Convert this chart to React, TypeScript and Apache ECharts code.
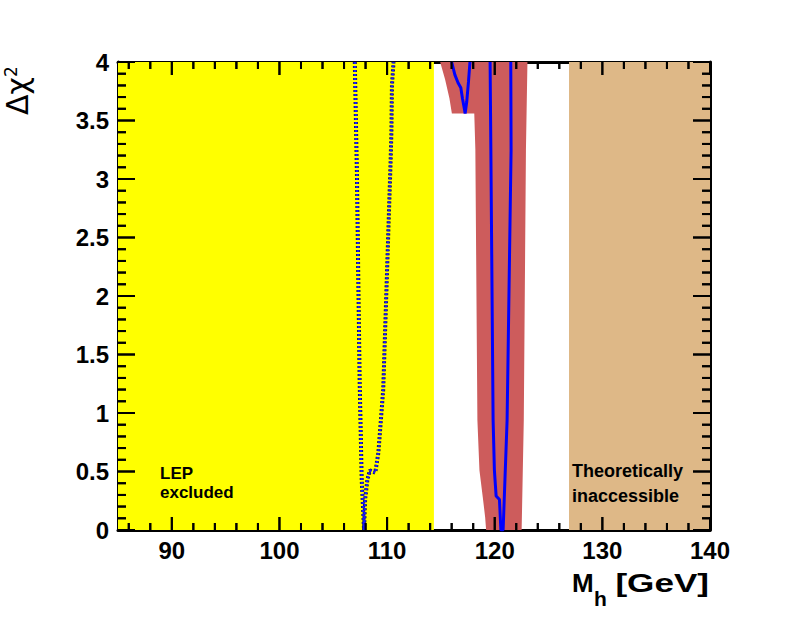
import React, { useEffect, useRef } from 'react';
import * as echarts from 'echarts';

// ---- tick values ----
const xMajorTicks = [90, 100, 110, 120, 130, 140];
const xMinorTicks = [86, 88, 92, 94, 96, 98, 102, 104, 106, 108, 112, 114, 116, 118, 122, 124, 126, 128, 132, 134, 136, 138];
const yMajorTicks = [0, 0.5, 1, 1.5, 2, 2.5, 3, 3.5, 4];
const yMinorTicks = [0.1, 0.2, 0.3, 0.4, 0.6, 0.7, 0.8, 0.9, 1.1, 1.2, 1.3, 1.4, 1.6, 1.7, 1.8, 1.9, 2.1, 2.2, 2.3, 2.4, 2.6, 2.7, 2.8, 2.9, 3.1, 3.2, 3.3, 3.4, 3.6, 3.7, 3.8, 3.9];

// ---- shaded regions [from, to] in GeV ----
const lepExcluded = [85, 114.35];
const theoryInaccessible = [126.9, 140];

// ---- uncertainty band outline ----
const bandX = [114.93, 115.39, 115.79, 116.02, 118.1, 118.2, 118.39, 118.58, 118.89, 119.11, 119.2, 122.5, 122.7, 122.9, 123.04];
const bandY = [4.0, 3.85, 3.69, 3.56, 3.56, 3.25, 0.94, 0.51, 0.28, 0.11, 0.0, 0.0, 0.94, 3.25, 4.0];

// ---- solid fit curve ----
const fitX = [119.57, 119.64, 119.85, 119.97, 120.13, 120.44, 120.57, 120.78, 121.15, 121.52, 121.49];
const fitY = [4.0, 3.25, 0.94, 0.51, 0.29, 0.26, 0.0, 0.0, 0.94, 3.25, 4.0];

// ---- secondary dip of the fit curve ----
const dipX = [116.0, 116.3, 116.6, 116.85, 117.0, 117.2, 117.25, 117.4, 117.56, 117.7];
const dipY = [4.0, 3.89, 3.82, 3.78, 3.69, 3.59, 3.56, 3.66, 3.83, 4.0];

// ---- dotted curve ----
const lepX = [107.0, 107.2, 107.45, 107.64, 107.86, 107.96, 108.17, 108.4, 108.6, 108.9, 109.19, 109.64, 110.33, 110.4, 110.45, 110.6];
const lepY = [4.0, 3.03, 1.28, 0.43, 0.0, 0.26, 0.43, 0.51, 0.5, 0.49, 0.66, 1.2, 3.16, 3.4, 3.8, 4.0];

const X_MIN = 85;
const X_MAX = 140;
const Y_MIN = 0;
const Y_MAX = 4;

// plot area geometry (pixels)
const GRID_LEFT = 118;
const GRID_TOP = 62;
const GRID_W = 592;
const GRID_H = 468;

const FONT = '"Liberation Sans", Arial, sans-serif';
const regionColors = ['#FFFF00', '#DEB887'];

const zip = (xs: number[], ys: number[]) => xs.map((x, i) => [x, ys[i]]);

const pxToY = (px: number) => (px / GRID_H) * (Y_MAX - Y_MIN);
const pxToX = (px: number) => (px / GRID_W) * (X_MAX - X_MIN);

const labelStyle = {
  color: '#000',
  fontSize: 24,
  fontWeight: 'bold',
  fontFamily: FONT,
};

// ticks as small polygons, one data item per tick, drawn like the band
function xTickPolys(name: string, values: number[], len: number) {
  const data: number[][] = [];
  values.forEach((v) => {
    data.push([v, Y_MIN]);
    data.push([v, Y_MAX]);
  });
  return {
    type: 'custom',
    name,
    z: 2,
    silent: true,
    clip: true,
    data,
    renderItem: (_p: any, api: any) => {
      const yv = api.value(1);
      const p = api.coord([api.value(0), yv]);
      const d = yv === Y_MIN ? -len : len;
      return {
        type: 'polygon',
        shape: { points: [[p[0] - 1, p[1]], [p[0] + 1, p[1]], [p[0] + 1, p[1] + d], [p[0] - 1, p[1] + d]] },
        style: { fill: '#000' },
      };
    },
  };
}

function yTickPolys(name: string, values: number[], len: number) {
  const data: number[][] = [];
  values.forEach((v) => {
    data.push([X_MIN, v]);
    data.push([X_MAX, v]);
  });
  return {
    type: 'custom',
    name,
    z: 2,
    silent: true,
    clip: true,
    data,
    renderItem: (_p: any, api: any) => {
      const xv = api.value(0);
      const p = api.coord([xv, api.value(1)]);
      const d = xv === X_MIN ? len : -len;
      return {
        type: 'polygon',
        shape: { points: [[p[0], p[1] - 1], [p[0], p[1] + 1], [p[0] + d, p[1] + 1], [p[0] + d, p[1] - 1]] },
        style: { fill: '#000' },
      };
    },
  };
}

// ticks as broken line segments
function xTickLine(name: string, values: number[], px: number) {
  const len = pxToY(px);
  const data: any[] = [];
  values.forEach((v) => {
    data.push([v, Y_MIN], [v, Y_MIN + len], [v, '-']);
    data.push([v, Y_MAX], [v, Y_MAX - len], [v, '-']);
  });
  return {
    type: 'line',
    name,
    z: 5,
    silent: true,
    symbol: 'none',
    connectNulls: false,
    data,
    lineStyle: { color: '#000', width: 2 },
  };
}

function yTickLine(name: string, values: number[], px: number) {
  const len = pxToX(px);
  const data: any[] = [];
  values.forEach((v) => {
    data.push([X_MIN, v], [X_MIN + len, v], ['-', v]);
    data.push([X_MAX, v], [X_MAX - len, v], ['-', v]);
  });
  return {
    type: 'line',
    name,
    z: 5,
    silent: true,
    symbol: 'none',
    connectNulls: false,
    data,
    lineStyle: { color: '#000', width: 2 },
  };
}

export default function App() {
  const ref = useRef<HTMLDivElement>(null);

  useEffect(() => {
    if (!ref.current) return;
    const chart = echarts.init(ref.current, undefined, { renderer: 'svg' });

    const lineAxis = { show: true, onZero: false, lineStyle: { color: '#000', width: 3 } };

    const option = {
      animation: false,
      backgroundColor: '#fff',
      grid: { left: GRID_LEFT, top: GRID_TOP, width: GRID_W, height: GRID_H, show: false },
      xAxis: [
        {
          type: 'value',
          position: 'bottom',
          min: X_MIN,
          max: X_MAX,
          axisLine: lineAxis,
          axisTick: { show: false },
          axisLabel: { ...labelStyle, margin: 8, customValues: xMajorTicks, hideOverlap: false },
          splitLine: { show: false },
        },
        {
          type: 'value',
          position: 'top',
          min: X_MIN,
          max: X_MAX,
          axisLine: lineAxis,
          axisTick: { show: false },
          axisLabel: { show: false },
          splitLine: { show: false },
        },
      ],
      yAxis: [
        {
          type: 'value',
          position: 'left',
          min: Y_MIN,
          max: Y_MAX,
          interval: 0.5,
          axisLine: lineAxis,
          axisTick: { show: false },
          axisLabel: { ...labelStyle, margin: 9, customValues: yMajorTicks, hideOverlap: false },
          splitLine: { show: false },
        },
        {
          type: 'value',
          position: 'right',
          min: Y_MIN,
          max: Y_MAX,
          interval: 0.5,
          axisLine: lineAxis,
          axisTick: { show: false },
          axisLabel: { show: false },
          splitLine: { show: false },
        },
      ],
      series: [
        {
          type: 'custom',
          name: 'regions',
          z: 1,
          silent: true,
          clip: true,
          data: [lepExcluded, theoryInaccessible],
          renderItem: (params: any, api: any) => {
            const p0 = api.coord([api.value(0), Y_MAX]);
            const p1 = api.coord([api.value(1), Y_MIN]);
            return {
              type: 'rect',
              shape: { x: p0[0], y: p0[1], width: p1[0] - p0[0], height: p1[1] - p0[1] },
              style: { fill: regionColors[params.dataIndex] },
            };
          },
        },
        {
          type: 'custom',
          name: 'band',
          z: 2,
          silent: true,
          clip: true,
          data: [[bandX[0], bandY[0]]],
          renderItem: (_params: any, api: any) => {
            const pts = bandX.map((x, i) => api.coord([x, bandY[i]]));
            return { type: 'polygon', shape: { points: pts }, style: { fill: '#CD5C5C' } };
          },
        },
        xTickPolys('xMajorTicks', xMajorTicks, 13),
        xTickPolys('xMinorTicks', xMinorTicks, 7),
        yTickPolys('yMajorTicks', yMajorTicks, 17),
        yTickPolys('yMinorTicks', yMinorTicks, 8),
        {
          type: 'line',
          name: 'lep-under',
          z: 3,
          silent: true,
          symbol: 'none',
          data: zip(lepX, lepY),
          lineStyle: { color: '#101060', width: 4, type: [2, 2] },
        },
        {
          type: 'line',
          name: 'lep',
          z: 4,
          silent: true,
          symbol: 'none',
          data: zip(lepX, lepY),
          lineStyle: { color: '#1a1aff', width: 2.4, type: [2, 2] },
        },
        {
          type: 'line',
          name: 'dip',
          z: 5,
          silent: true,
          symbol: 'none',
          data: zip(dipX, dipY),
          lineStyle: { color: '#0000FF', width: 3 },
        },
        {
          type: 'line',
          name: 'fit',
          z: 5,
          silent: true,
          symbol: 'none',
          data: zip(fitX, fitY),
          lineStyle: { color: '#0000FF', width: 3 },
        },
        xTickLine('xMajorTickLines', xMajorTicks, 13),
        xTickLine('xMinorTickLines', xMinorTicks, 7),
        yTickLine('yMajorTickLines', yMajorTicks, 17),
        yTickLine('yMinorTickLines', yMinorTicks, 8),
      ],
      graphic: [
        {
          type: 'text',
          z: 20,
          x: 17,
          y: 115,
          rotation: Math.PI / 2,
          style: { text: 'Δχ', fontSize: 30, fontFamily: '"DejaVu Sans", sans-serif', fill: '#000', textAlign: 'left', textVerticalAlign: 'middle' },
        },
        {
          type: 'text',
          z: 20,
          x: 11,
          y: 77,
          rotation: Math.PI / 2,
          style: { text: '2', fontSize: 17, fontFamily: '"DejaVu Sans", sans-serif', fill: '#000', textAlign: 'left', textVerticalAlign: 'middle' },
        },
        {
          type: 'text',
          z: 20,
          x: 572,
          y: 583,
          style: { text: 'M', fontSize: 26, fontWeight: 'bold', fontFamily: FONT, fill: '#000', textAlign: 'left', textVerticalAlign: 'middle' },
        },
        {
          type: 'text',
          z: 20,
          x: 594,
          y: 598,
          style: { text: 'h', fontSize: 21, fontWeight: 'bold', fontFamily: FONT, fill: '#000', textAlign: 'left', textVerticalAlign: 'middle' },
        },
        {
          type: 'text',
          z: 20,
          x: 709,
          y: 583,
          scaleX: 1.35,
          style: { text: '[GeV]', fontSize: 26, fontWeight: 'bold', fontFamily: FONT, fill: '#000', textAlign: 'right', textVerticalAlign: 'middle' },
        },
        {
          type: 'text',
          z: 20,
          x: 160,
          y: 483,
          style: { text: 'LEP\nexcluded', fontSize: 17, lineHeight: 18.5, fontWeight: 'bold', fontFamily: FONT, fill: '#000', textAlign: 'left', textVerticalAlign: 'middle' },
        },
        {
          type: 'text',
          z: 20,
          x: 572,
          y: 483.5,
          style: { text: 'Theoretically\ninaccessible', fontSize: 18, lineHeight: 25, fontWeight: 'bold', fontFamily: FONT, fill: '#000', textAlign: 'left', textVerticalAlign: 'middle' },
        },
      ],
    };

    chart.setOption(option as any);
    return () => chart.dispose();
  }, []);

  return <div ref={ref} style={{ position: 'fixed', left: 0, top: 0, width: 788, height: 624 }} />;
}
